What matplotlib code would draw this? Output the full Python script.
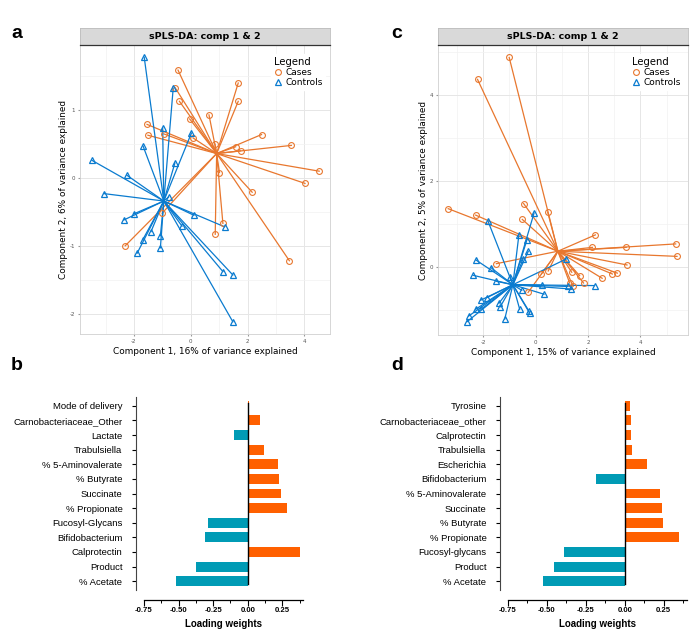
import numpy as np
import matplotlib.pyplot as plt
from matplotlib.lines import Line2D

# ---------------- data: panel a (sPLS-DA scores) ----------------
a_cases_x = [-0.45, 1.67, -0.55, -0.40, 1.67, -0.04, 0.64, -1.54, -1.51, -0.95, 0.08, 2.49,
             3.54, 1.58, 1.75, 0.85, 4.52, 4.02, 1.01, 2.16, 1.13, 0.86, 3.47, -2.31, -1.01]
a_cases_y = [1.59, 1.40, 1.33, 1.13, 1.13, 0.87, 0.93, 0.79, 0.63, 0.65, 0.59, 0.64,
             0.48, 0.46, 0.40, 0.50, 0.10, -0.08, 0.08, -0.21, -0.67, -0.83, -1.22, -1.00, -0.52]
a_ctrl_x = [-1.64, -0.62, -0.99, 0.02, -1.68, -3.48, -0.56, -2.25, -3.07, -0.78, -2.01, -2.36,
            0.11, -1.40, -1.69, -1.07, -1.07, -1.89, -0.31, 1.19, 1.13, 1.48, 1.48]
a_ctrl_y = [1.78, 1.32, 0.74, 0.66, 0.47, 0.26, 0.22, 0.04, -0.23, -0.28, -0.53, -0.62,
            -0.55, -0.79, -0.91, -0.85, -1.03, -1.11, -0.71, -0.72, -1.38, -1.43, -2.12]
a_cases_centroid = (0.91, 0.36)
a_ctrl_centroid = (-0.95, -0.34)

# ---------------- data: panel c ----------------
c_cases_x = [-1.01, -2.22, -3.34, -2.29, -0.46, 0.46, -0.51, 2.28, 2.17, 3.46, 5.35, 5.40,
             3.49, -1.50, 3.12, 2.93, 2.54, 1.68, 1.38, 1.83, 1.30, 0.48, 0.22, -0.29, 1.43]
c_cases_y = [4.88, 4.37, 1.36, 1.21, 1.48, 1.28, 1.11, 0.75, 0.46, 0.46, 0.54, 0.25,
             0.05, 0.08, -0.14, -0.16, -0.26, -0.20, -0.12, -0.37, -0.37, -0.09, -0.16, -0.59, -0.45]
c_ctrl_x = [-0.06, -1.82, -0.64, -0.33, -0.28, -0.48, -2.29, -1.69, -2.39, -1.50, -0.97, 0.25,
            2.25, 1.36, 0.32, 1.24, 1.17, -1.86, -2.10, -2.29, -2.08, -2.56, -2.62, -1.40,
            -1.35, -1.18, -0.61, -0.27, -0.23, -0.53]
c_ctrl_y = [1.26, 1.07, 0.75, 0.64, 0.37, 0.19, 0.17, -0.02, -0.19, -0.33, -0.22, -0.42,
            -0.43, -0.51, -0.63, -0.45, 0.19, -0.71, -0.77, -0.98, -0.98, -1.14, -1.27, -0.84,
            -0.92, -1.21, -0.98, -1.01, -1.07, -0.54]
c_cases_centroid = (0.85, 0.37)
c_ctrl_centroid = (-0.87, -0.41)

# ---------------- data: loading weights ----------------
b_labels = ["Mode of delivery", "Carnobacteriaceae_Other", "Lactate", "Trabulsiella",
            "% 5-Aminovalerate", "% Butyrate", "Succinate", "% Propionate", "Fucosyl-Glycans",
            "Bifidobacterium", "Calprotectin", "Product", "% Acetate"]
b_values = [0.009, 0.09, -0.097, 0.12, 0.22, 0.226, 0.241, 0.284, -0.289, -0.306, 0.379,
            -0.377, -0.517]

d_labels = ["Tyrosine", "Carnobacteriaceae_other", "Calprotectin", "Trabulsiella",
            "Escherichia", "Bifidobacterium", "% 5-Aminovalerate", "Succinate", "% Butyrate",
            "% Propionate", "Fucosyl-glycans", "Product", "% Acetate"]
d_values = [0.036, 0.04, 0.043, 0.049, 0.14, -0.185, 0.225, 0.24, 0.243, 0.348, -0.393,
            -0.457, -0.528]

ORANGE = '#E8772E'
BLUE = '#0A7BCF'
BAR_POS = '#FF6000'
BAR_NEG = '#009BB5'

W, H = 700, 636
fig = plt.figure(figsize=(W / 100, H / 100), dpi=100)


def rect(l, t, r, b):
    # pixel box (from top-left) -> figure fraction
    return [l / W, 1 - b / H, (r - l) / W, (b - t) / H]


def scatter_panel(box, strip, xs_c, ys_c, xs_t, ys_t, cen_c, cen_t, xlim, ylim,
                  xmaj, xmin, ymaj, ymin, xlab, ylab):
    ax = fig.add_axes(rect(*box))
    ax.set_xlim(*xlim)
    ax.set_ylim(*ylim)
    ax.set_xticks(xmaj)
    ax.set_xticks(xmin, minor=True)
    ax.set_yticks(ymaj)
    ax.set_yticks(ymin, minor=True)
    ax.grid(which='major', color='#E6E6E6', lw=0.7, zorder=0)
    ax.grid(which='minor', color='#F2F2F2', lw=0.5, zorder=0)
    ax.tick_params(which='both', length=0)
    ax.tick_params(which='major', labelsize=4, labelcolor='#555555', pad=2, length=1.5,
                   color='#999999')
    ax.set_xticklabels([str(v) for v in xmaj])
    ax.set_yticklabels([str(v) for v in ymaj])
    for sp in ax.spines.values():
        sp.set_color('#D0D0D0')
        sp.set_linewidth(0.6)

    for x, y in zip(xs_c, ys_c):
        ax.plot([cen_c[0], x], [cen_c[1], y], color=ORANGE, lw=0.9, zorder=2)
    for x, y in zip(xs_t, ys_t):
        ax.plot([cen_t[0], x], [cen_t[1], y], color=BLUE, lw=0.9, zorder=3)
    ax.plot(xs_c, ys_c, 'o', ms=4.2, mfc='none', mec=ORANGE, mew=0.8, zorder=4)
    ax.plot(xs_t, ys_t, '^', ms=4.8, mfc='none', mec=BLUE, mew=0.9, zorder=5)

    ax.set_xlabel(xlab, fontsize=6.4, labelpad=2)
    ax.set_ylabel(ylab, fontsize=6.4, labelpad=1)

    handles = [Line2D([], [], marker='o', ls='none', mfc='none', mec=ORANGE, ms=4.2, mew=0.8),
               Line2D([], [], marker='^', ls='none', mfc='none', mec=BLUE, ms=4.8, mew=0.9)]
    leg = ax.legend(handles, ['Cases', 'Controls'], title='Legend', loc='upper right',
                    bbox_to_anchor=(1.0, 0.985), fontsize=6.5, title_fontsize=7.2,
                    frameon=True, fancybox=False, framealpha=1, edgecolor='white',
                    handletextpad=0.3, borderpad=0.3, labelspacing=0.15, handlelength=1.0)
    leg._legend_box.align = 'left'

    sax = fig.add_axes(rect(*strip))
    sax.set_xticks([])
    sax.set_yticks([])
    sax.set_facecolor('#D9D9D9')
    for sp in sax.spines.values():
        sp.set_color('#BDBDBD')
        sp.set_linewidth(0.6)
    sax.spines['bottom'].set_color('#333333')
    sax.spines['bottom'].set_linewidth(0.9)
    sax.text(0.5, 0.48, 'sPLS-DA: comp 1 & 2', ha='center', va='center',
             fontsize=6.8, fontweight='bold', transform=sax.transAxes)
    return ax


scatter_panel((80, 45, 330, 334), (80, 28, 330, 45),
              a_cases_x, a_cases_y, a_ctrl_x, a_ctrl_y, a_cases_centroid, a_ctrl_centroid,
              (-3.9, 4.9), (-2.3, 1.96), [-2, 0, 2, 4], [-3, -1, 1, 3],
              [-2, -1, 0, 1], [-1.5, -0.5, 0.5, 1.5],
              'Component 1, 16% of variance explained', 'Component 2, 6% of variance explained')

scatter_panel((438, 45, 688, 335), (438, 28, 688, 45),
              c_cases_x, c_cases_y, c_ctrl_x, c_ctrl_y, c_cases_centroid, c_ctrl_centroid,
              (-3.73, 5.82), (-1.58, 5.17), [-2, 0, 2, 4], [-3, -1, 1, 3, 5],
              [0, 2, 4], [-1, 1, 3, 5],
              'Component 1, 15% of variance explained', 'Component 2, 5% of variance explained')


def bar_panel(box, labels, values):
    ax = fig.add_axes(rect(*box))
    # offset spines first: moving a spine rebuilds the ticks
    for s in ['top', 'right']:
        ax.spines[s].set_visible(False)
    ax.spines['left'].set_position(('outward', 6))
    ax.spines['bottom'].set_position(('outward', 7))
    ax.spines['left'].set_color('#444444')
    ax.spines['left'].set_linewidth(0.8)
    ax.spines['bottom'].set_linewidth(0.9)

    n = len(labels)
    ypos = np.arange(n)[::-1]
    colors = [BAR_POS if v > 0 else BAR_NEG for v in values]
    ax.barh(ypos, values, height=0.68, color=colors, zorder=2)
    ax.axvline(0, ymin=0.03, ymax=0.97, color='black', lw=1.0, zorder=3)
    ax.set_xlim(-0.75, 0.40)
    ax.set_ylim(-0.6, n - 0.4)
    ax.set_yticks(ypos)
    ax.set_yticklabels(labels)
    ax.set_xticks([-0.75, -0.5, -0.25, 0.0, 0.25])
    ax.set_xticks([-0.625, -0.375, -0.125, 0.125, 0.375], minor=True)
    ax.set_xticklabels(['-0.75', '-0.50', '-0.25', '0.00', '0.25'])
    ax.tick_params(axis='y', length=3, width=0.8, pad=6.5, labelsize=6.8)
    ax.tick_params(axis='x', which='major', length=4, width=0.8, pad=1.5, labelsize=5.6)
    ax.tick_params(axis='x', which='minor', length=2, width=0.7)
    for t in ax.get_yticklabels():
        t.set_family('Liberation Sans')
    for t in ax.get_xticklabels():
        t.set_family('Liberation Sans')
        t.set_fontweight('bold')
    ax.set_xlabel('Loading weights', fontsize=7, fontweight='bold',
                  family='Liberation Sans', labelpad=3)
    return ax


bar_panel((144, 397, 303, 590), b_labels, b_values)
bar_panel((508, 397, 687, 590), d_labels, d_values)

for lab, x, y in [('a', 17, 33), ('c', 397, 33), ('b', 17, 365), ('d', 397, 365)]:
    fig.text(x / W, 1 - y / H, lab, fontsize=14, fontweight='bold', family='Liberation Sans',
             ha='center', va='center')

fig.savefig('out.png', dpi=100)
